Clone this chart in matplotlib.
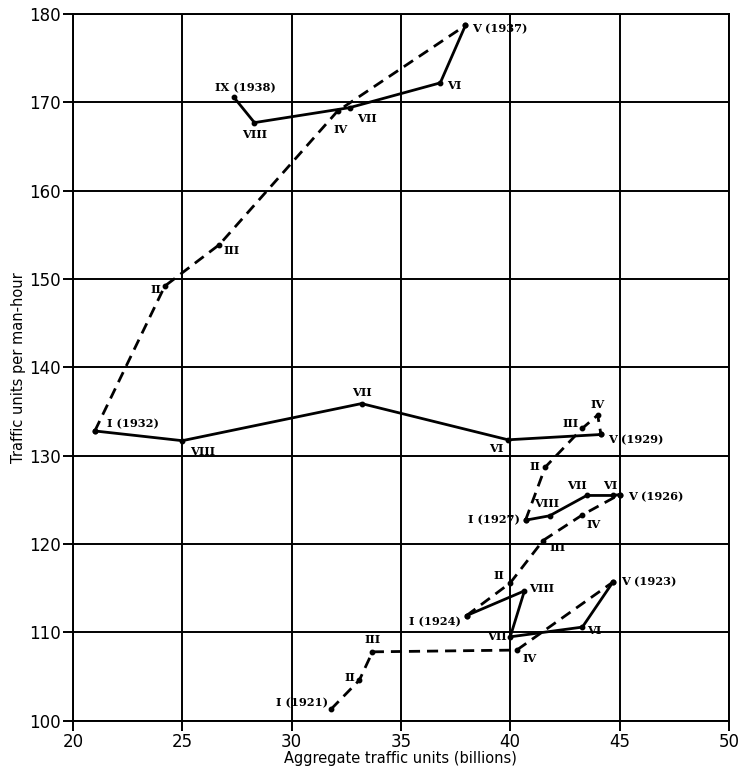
import matplotlib
matplotlib.use("Agg")
import matplotlib.pyplot as plt

# traffic units (billions) vs traffic units per man-hour, by cycle stage
# expansion legs are dashed, contraction legs solid
x_1921 = [31.8, 33.1, 33.7, 40.3, 44.7]
y_1921 = [101.3, 104.6, 107.8, 108.0, 115.7]
x_1923 = [44.7, 43.3, 40.0, 40.65, 38.0]
y_1923 = [115.7, 110.6, 109.5, 114.7, 111.9]
x_1924 = [38.0, 40.0, 41.5, 43.3, 45.0]
y_1924 = [111.9, 115.6, 120.4, 123.3, 125.6]
x_1926 = [45.0, 44.7, 43.5, 41.8, 40.7]
y_1926 = [125.6, 125.5, 125.5, 123.2, 122.7]
x_1927 = [40.7, 41.6, 43.3, 44.0, 44.15]
y_1927 = [122.7, 128.7, 133.1, 134.6, 132.4]
x_1929 = [44.15, 39.9, 33.2, 25.0, 21.0]
y_1929 = [132.4, 131.8, 135.9, 131.7, 132.8]
x_1932 = [21.0, 24.2, 26.7, 32.1, 37.95]
y_1932 = [132.8, 149.2, 153.9, 169.0, 178.7]
x_1937 = [37.95, 36.8, 32.66, 28.3, 27.35]
y_1937 = [178.7, 172.2, 169.4, 167.7, 170.6]

labels_1921 = ["I (1921)", "II", "III", "IV", "V (1923)"]
labels_1923 = [None, "VI", "VII", "VIII", "I (1924)"]
labels_1924 = [None, "II", "III", "IV", "V (1926)"]
labels_1926 = [None, "VI", "VII", "VIII", "I (1927)"]
labels_1927 = [None, "II", "III", "IV", "V (1929)"]
labels_1929 = [None, "VI", "VII", "VIII", "I (1932)"]
labels_1932 = [None, "II", "III", "IV", "V (1937)"]
labels_1937 = [None, "VI", "VII", "VIII", "IX (1938)"]

# label offsets in pixels (dx, dy, ha)
offs_1921 = [(-3, 7, "right"), (-4, 3, "right"), (0, 12, "center"), (6, -8, "left"), (8, 0, "left")]
offs_1923 = [None, (5, -3, "left"), (-4, 0, "right"), (5, 2, "left"), (-6, -6, "right")]
offs_1924 = [None, (-6, 7, "right"), (6, -7, "left"), (4, -10, "left"), (9, -2, "left")]
offs_1926 = [None, (-3, 10, "center"), (-10, 10, "center"), (-3, 12, "center"), (-6, 0, "right")]
offs_1927 = [None, (-5, 1, "right"), (-4, 5, "right"), (0, 11, "center"), (7, -5, "left")]
offs_1929 = [None, (-5, -9, "right"), (0, 11, "center"), (8, -11, "left"), (12, 7, "left")]
offs_1932 = [None, (-4, -3, "right"), (4, -6, "left"), (3, -18, "center"), (7, -3, "left")]
offs_1937 = [None, (7, -3, "left"), (7, -11, "left"), (0, -12, "center"), (12, 9, "center")]

legs = [
    (x_1921, y_1921, "--", labels_1921, offs_1921),
    (x_1923, y_1923, "-", labels_1923, offs_1923),
    (x_1924, y_1924, "--", labels_1924, offs_1924),
    (x_1926, y_1926, "-", labels_1926, offs_1926),
    (x_1927, y_1927, "--", labels_1927, offs_1927),
    (x_1929, y_1929, "-", labels_1929, offs_1929),
    (x_1932, y_1932, "--", labels_1932, offs_1932),
    (x_1937, y_1937, "-", labels_1937, offs_1937),
]

fig = plt.figure(figsize=(7.47, 7.75), dpi=100)
ax = fig.add_axes([0.0977, 0.070, 0.878, 0.912])

for xs, ys, ls, labs, offs in legs:
    if ls == "--":
        ax.plot(xs, ys, color="black", lw=2.0, ls=(0, (4, 2.5)), marker="o", ms=3.2, zorder=3)
    else:
        ax.plot(xs, ys, color="black", lw=2.0, ls="-", marker="o", ms=3.2, zorder=3)
    for xv, yv, lab, off in zip(xs, ys, labs, offs):
        if lab is None:
            continue
        dx, dy, ha = off
        ax.annotate(lab, (xv, yv), xytext=(dx, dy), textcoords="offset pixels",
                    ha=ha, va="center", fontsize=8.2, fontweight="bold",
                    family="DejaVu Serif", zorder=4)

ax.set_xlim(20, 50)
ax.set_ylim(100, 180)
ax.set_xticks(range(20, 51, 5))
ax.set_yticks(range(100, 181, 10))
ax.grid(True, color="black", lw=1.4)
ax.set_axisbelow(True)
for sp in ax.spines.values():
    sp.set_linewidth(1.4)
ax.tick_params(direction="out", length=7, width=1.4, labelsize=12, pad=2)

ax.set_xlabel("Aggregate traffic units (billions)", fontsize=10.5, labelpad=0)
ax.set_ylabel("Traffic units per man-hour", fontsize=10.5, labelpad=2)

fig.savefig("out.png", dpi=100)
